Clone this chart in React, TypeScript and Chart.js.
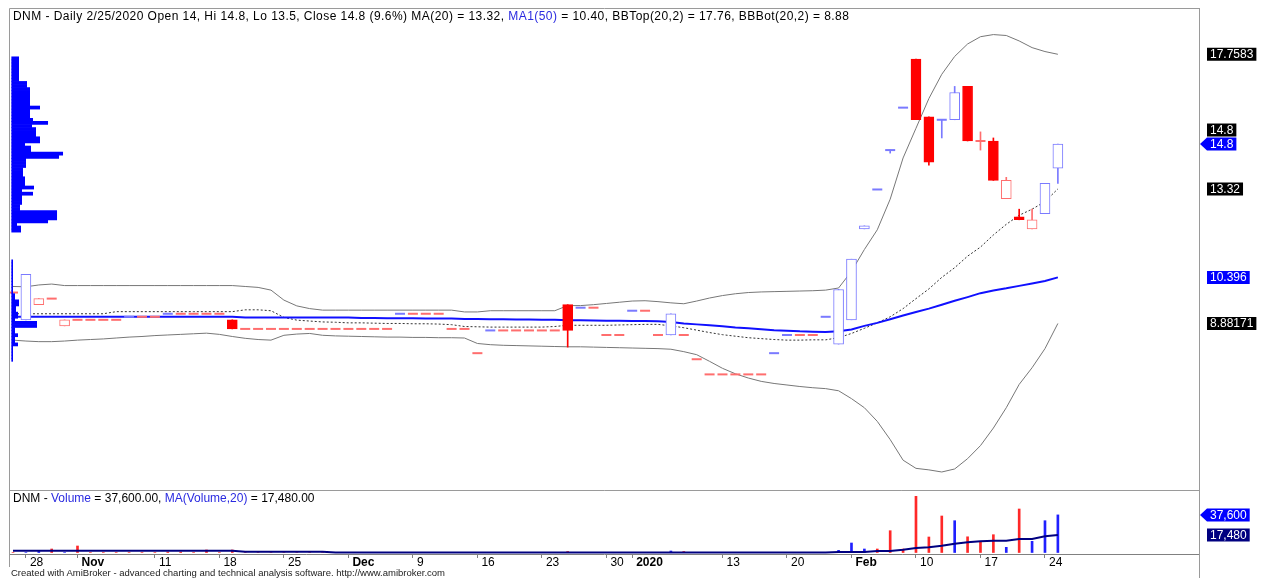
import { useEffect, useRef } from "react";
import { Chart, registerables, type Plugin, type ChartConfiguration } from "chart.js";

Chart.register(...registerables);

const FONT = "'Liberation Sans', Arial, sans-serif";

// trading days shown (Vietnam: Jan 1 and Tet 23-29 Jan closed)
const tradingDays = [
  "2019-10-25", "2019-10-28", "2019-10-29", "2019-10-30", "2019-10-31",
  "2019-11-01", "2019-11-04", "2019-11-05", "2019-11-06", "2019-11-07", "2019-11-08",
  "2019-11-11", "2019-11-12", "2019-11-13", "2019-11-14", "2019-11-15",
  "2019-11-18", "2019-11-19", "2019-11-20", "2019-11-21", "2019-11-22",
  "2019-11-25", "2019-11-26", "2019-11-27", "2019-11-28", "2019-11-29",
  "2019-12-02", "2019-12-03", "2019-12-04", "2019-12-05", "2019-12-06",
  "2019-12-09", "2019-12-10", "2019-12-11", "2019-12-12", "2019-12-13",
  "2019-12-16", "2019-12-17", "2019-12-18", "2019-12-19", "2019-12-20",
  "2019-12-23", "2019-12-24", "2019-12-25", "2019-12-26", "2019-12-27",
  "2019-12-30", "2019-12-31", "2020-01-02", "2020-01-03",
  "2020-01-06", "2020-01-07", "2020-01-08", "2020-01-09", "2020-01-10",
  "2020-01-13", "2020-01-14", "2020-01-15", "2020-01-16", "2020-01-17",
  "2020-01-20", "2020-01-21", "2020-01-22", "2020-01-30", "2020-01-31",
  "2020-02-03", "2020-02-04", "2020-02-05", "2020-02-06", "2020-02-07",
  "2020-02-10", "2020-02-11", "2020-02-12", "2020-02-13", "2020-02-14",
  "2020-02-17", "2020-02-18", "2020-02-19", "2020-02-20", "2020-02-21",
  "2020-02-24", "2020-02-25",
];

const opens = [
  9.9, 9.0, 9.5, 9.7, 8.8, 9.0, 9.0, 9.0, 9.0, 9.1,
  9.1, 9.1, 9.2, 9.2, 9.2, 9.2, 9.2, 9.0, 8.7, 8.7,
  8.7, 8.7, 8.7, 8.7, 8.7, 8.7, 8.7, 8.7, 8.7, 8.7,
  9.2, 9.2, 9.2, 9.2, 8.7, 8.7, 7.9, 8.65, 8.65, 8.65,
  8.65, 8.65, 8.65, 9.5, 9.4, 9.4, 8.5, 8.5, 9.3, 9.3,
  8.5, 8.5, 8.5, 7.7, 7.2, 7.2, 7.2, 7.2, 7.2, 7.9,
  8.5, 8.5, 8.5, 9.1, 8.2, 9.0, 12.0, 13.3, 14.6, 16.0,
  17.6, 15.7, 15.6, 15.6, 16.7, 14.9, 14.9, 13.0, 12.4, 12.0,
  12.5, 14.0,
];
const highs = [
  9.9, 10.5, 9.7, 9.7, 9.0, 9.0, 9.0, 9.0, 9.0, 9.1,
  9.1, 9.1, 9.2, 9.2, 9.2, 9.2, 9.2, 9.0, 8.7, 8.7,
  8.7, 8.7, 8.7, 8.7, 8.7, 8.7, 8.7, 8.7, 8.7, 8.7,
  9.2, 9.2, 9.2, 9.2, 8.7, 8.7, 7.9, 8.65, 8.65, 8.65,
  8.65, 8.65, 8.65, 9.5, 9.4, 9.4, 8.5, 8.5, 9.3, 9.3,
  8.5, 9.2, 8.5, 7.7, 7.2, 7.2, 7.2, 7.2, 7.2, 7.9,
  8.5, 8.5, 8.5, 9.1, 10.0, 11.0, 12.1, 13.3, 14.6, 16.0,
  17.6, 15.7, 15.6, 16.7, 16.7, 15.2, 15.0, 13.7, 12.65, 12.65,
  13.5, 14.8,
];
const lows = [
  9.9, 9.0, 9.5, 9.7, 8.8, 9.0, 9.0, 9.0, 9.0, 9.1,
  9.1, 9.1, 9.2, 9.2, 9.2, 9.2, 9.2, 8.7, 8.7, 8.7,
  8.7, 8.7, 8.7, 8.7, 8.7, 8.7, 8.7, 8.7, 8.7, 8.7,
  9.2, 9.2, 9.2, 9.2, 8.7, 8.7, 7.9, 8.65, 8.65, 8.65,
  8.65, 8.65, 8.65, 8.1, 9.4, 9.4, 8.5, 8.5, 9.3, 9.3,
  8.5, 8.5, 8.5, 7.7, 7.2, 7.2, 7.2, 7.2, 7.2, 7.9,
  8.5, 8.5, 8.5, 9.1, 8.2, 9.0, 12.0, 13.3, 14.5, 16.0,
  15.6, 14.1, 15.0, 15.6, 14.9, 14.6, 13.6, 13.0, 12.3, 12.0,
  12.5, 13.5,
];
const closes = [
  9.9, 10.5, 9.7, 9.7, 9.0, 9.0, 9.0, 9.0, 9.0, 9.1,
  9.1, 9.1, 9.2, 9.2, 9.2, 9.2, 9.2, 8.7, 8.7, 8.7,
  8.7, 8.7, 8.7, 8.7, 8.7, 8.7, 8.7, 8.7, 8.7, 8.7,
  9.2, 9.2, 9.2, 9.2, 8.7, 8.7, 7.9, 8.65, 8.65, 8.65,
  8.65, 8.65, 8.65, 8.65, 9.4, 9.4, 8.5, 8.5, 9.3, 9.3,
  8.5, 9.2, 8.5, 7.7, 7.2, 7.2, 7.2, 7.2, 7.2, 7.9,
  8.5, 8.5, 8.5, 9.1, 10.0, 11.0, 12.1, 13.3, 14.6, 16.0,
  15.6, 14.2, 15.6, 16.5, 14.9, 14.9, 13.6, 13.6, 12.3, 12.3,
  13.5, 14.8,
];
const volumes = [
  0, 0, 1000, 3500, 0, 6500, 0, 0, 0, 0,
  0, 0, 500, 500, 0, 2500, 0, 2500, 0, 0,
  0, 0, 0, 0, 0, 0, 0, 0, 0, 0,
  0, 0, 0, 0, 0, 0, 0, 0, 0, 0,
  0, 0, 0, 1000, 0, 0, 0, 0, 0, 0,
  0, 1500, 1000, 0, 0, 0, 0, 0, 0, 0,
  0, 0, 0, 0, 2200, 9500, 3500, 3500, 21800, 3500,
  56200, 15500, 36500, 31800, 15700, 11200, 17800, 5200, 43500, 11200,
  31800, 37600,
];

// indicator readings
const ma20 = [
  9.20, 9.20, 9.20, 9.20, 9.20, 9.20, 9.20, 9.20, 9.27, 9.27,
  9.27, 9.27, 9.27, 9.27, 9.27, 9.27, 9.27, 9.27, 9.33, 9.33,
  9.30, 9.08, 8.99, 8.96, 8.93, 8.92, 8.90, 8.90, 8.89, 8.88,
  8.88, 8.87, 8.87, 8.86, 8.84, 8.78, 8.77, 8.76, 8.76, 8.76,
  8.76, 8.76, 8.78, 8.82, 8.82, 8.82, 8.82, 8.83, 8.84, 8.85,
  8.85, 8.80, 8.74, 8.66, 8.58, 8.51, 8.46, 8.41, 8.38, 8.35,
  8.33, 8.33, 8.34, 8.34, 8.41, 8.55, 8.72, 8.90, 9.10, 9.37,
  9.70, 10.02, 10.40, 10.72, 11.10, 11.40, 11.80, 12.15, 12.45, 12.65,
  12.90, 13.32,
];
const ma50 = [
  9.10, 9.10, 9.10, 9.10, 9.10, 9.10, 9.10, 9.10, 9.10, 9.10,
  9.10, 9.10, 9.10, 9.10, 9.10, 9.10, 9.10, 9.10, 9.08, 9.08,
  9.08, 9.08, 9.08, 9.08, 9.08, 9.08, 9.08, 9.06, 9.06, 9.05,
  9.05, 9.05, 9.04, 9.04, 9.04, 9.03, 9.03, 9.02, 9.02, 9.01,
  9.01, 9.00, 9.00, 8.99, 8.99, 8.98, 8.97, 8.97, 8.96, 8.96,
  8.95, 8.93, 8.88, 8.85, 8.82, 8.79, 8.75, 8.72, 8.69, 8.66,
  8.64, 8.62, 8.61, 8.60, 8.62, 8.68, 8.80, 8.90, 9.02, 9.14,
  9.26, 9.37, 9.50, 9.63, 9.75, 9.88, 9.97, 10.04, 10.12, 10.20,
  10.28, 10.40,
];
const bbTop = [
  10.10, 10.09, 10.15, 10.18, 10.13, 10.13, 10.13, 10.13, 10.13, 10.13,
  10.13, 10.13, 10.13, 10.13, 10.13, 10.13, 10.13, 10.13, 10.10, 10.07,
  9.98, 9.65, 9.46, 9.37, 9.32, 9.32, 9.32, 9.32, 9.32, 9.32,
  9.32, 9.32, 9.32, 9.32, 9.32, 9.26, 9.26, 9.30, 9.30, 9.30,
  9.30, 9.30, 9.30, 9.47, 9.47, 9.50, 9.54, 9.58, 9.62, 9.63,
  9.60, 9.56, 9.53, 9.62, 9.72, 9.80, 9.86, 9.90, 9.92, 9.93,
  9.94, 9.95, 9.96, 9.98, 10.05, 10.60, 11.32, 11.97, 12.98, 14.34,
  15.32, 16.30, 17.10, 17.69, 18.10, 18.34, 18.41, 18.38, 18.20, 17.98,
  17.85, 17.76,
];
const bbBot = [
  8.33, 8.30, 8.28, 8.28, 8.30, 8.33, 8.35, 8.37, 8.40, 8.43,
  8.45, 8.48, 8.50, 8.52, 8.54, 8.56, 8.52, 8.45, 8.39, 8.35,
  8.33, 8.49, 8.53, 8.55, 8.49, 8.47, 8.46, 8.45, 8.44, 8.43,
  8.43, 8.42, 8.42, 8.41, 8.41, 8.40, 8.22, 8.18, 8.16, 8.15,
  8.14, 8.13, 8.12, 8.11, 8.11, 8.10, 8.09, 8.08, 8.07, 8.06,
  8.05, 8.03, 7.95, 7.85, 7.63, 7.40, 7.22, 7.08, 6.97, 6.90,
  6.85, 6.80, 6.76, 6.73, 6.66, 6.40, 6.10, 5.65, 5.05, 4.37,
  4.10, 4.05, 3.98, 4.08, 4.42, 4.85, 5.43, 6.10, 6.87, 7.42,
  8.05, 8.88,
];
const volMa20 = [
  1800, 1800, 1800, 1800, 1800, 1800, 1800, 1800, 1800, 1800,
  1800, 1800, 1800, 1800, 1800, 1800, 1800, 1800, 800, 800,
  800, 800, 800, 800, 800, 100, 100, 100, 100, 100,
  100, 100, 100, 100, 100, 100, 100, 100, 100, 100,
  100, 100, 100, 100, 100, 100, 100, 100, 100, 100,
  100, 100, 100, 100, 100, 100, 100, 100, 100, 100,
  100, 100, 100, 100, 500, 500, 500, 1500, 1500, 2800,
  4500, 5200, 6800, 8800, 10200, 11200, 11800, 11800, 13500, 13500,
  16200, 17480,
];

// price-volume distribution, bins of 0.1 from 17.65 downwards
const profileTop = 17.65;
const profileStep = 0.1;
const profileVolume = [
  7, 7, 7, 7, 7, 7, 7, 7, 15, 15,
  18, 18, 18, 18, 18, 18, 28, 18, 18, 18,
  21, 36, 20, 24, 24, 24, 28, 28, 13, 19,
  19, 51, 47, 14, 14, 14, 11, 11, 11, 13,
  13, 13, 22, 10, 21, 10, 10, 10, 8, 8,
  45, 45, 45, 36, 5, 9, 9, 0, 0, 0,
  0, 0, 0, 0, 0, 0, 1, 1, 1, 1,
  1, 1, 1, 1, 1, 1, 1, 3, 3, 7,
  7, 4, 4, 6, 6, 3, 25, 25, 3, 3,
  6, 3, 3, 6, 1, 1, 1, 1, 1,
];

const xTickDates = [
  "2019-10-28", "2019-11-01", "2019-11-11", "2019-11-18", "2019-11-25", "2019-12-02",
  "2019-12-09", "2019-12-16", "2019-12-23", "2019-12-30", "2020-01-02", "2020-01-13",
  "2020-01-20", "2020-02-03", "2020-02-10", "2020-02-17", "2020-02-24",
];
const xTickText = ["28", "Nov", "11", "18", "25", "Dec", "9", "16", "23", "30", "2020", "13", "20", "Feb", "10", "17", "24"];

const priceTagValues = [17.7583, 14.8, 14.8, 13.32, 10.396, 8.88171];
const priceTagText = ["17.7583", "14.8", "14.8", "13.32", "10.396", "8.88171"];
const priceTagColor = ["#000000", "#000000", "#0000ff", "#000000", "#0000ff", "#000000"];
const priceTagArrow = [false, false, true, false, false, false];

const volTagValues = [37600, 17480];
const volTagText = ["37,600", "17,480"];
const volTagColor = ["#0000ff", "#000080"];
const volTagArrow = [true, false];

// layout
const PLOT_LEFT = 9;
const PLOT_RIGHT = 1199;
const X_MIN = -0.31;
const X_MAX = 91.94;
const PRICE_MIN = 3.617;
const PRICE_MAX = 19.254;
const VOL_MIN = -1500;
const VOL_MAX = 61500;

const UP_LINE = "#7a7aff";
const RED = "#ff0000";
const RED_LIGHT = "#ff6e6e";
const FRAME = "#9a9a9a";

const last = closes.length - 1;
const idx = closes.map((_, i) => i);
const isUp = idx.map(i => closes[i] > (i > 0 ? closes[i - 1] : opens[i]));
const outline = idx.map(i => (isUp[i] ? UP_LINE : closes[i] < opens[i] ? RED : RED_LIGHT));
const xTickIdx = xTickDates.map(d => tradingDays.indexOf(d));
const tickLabel = (v: number) => {
  const k = xTickIdx.indexOf(v);
  return k >= 0 ? xTickText[k] : "";
};

function drawTags(chart: Chart, values: number[], texts: string[], colors: string[], arrows: boolean[]) {
  const { ctx } = chart;
  const scale = chart.scales.y;
  const h = 13;
  const placed: number[] = [];
  const order = values.map((_, k) => k).sort((a, b) => Number(arrows[b]) - Number(arrows[a]));
  ctx.save();
  ctx.font = `12px ${FONT}`;
  ctx.textBaseline = "middle";
  for (const k of order) {
    let y = scale.getPixelForValue(values[k]);
    for (let g = 0; g < 10; g++) {
      const hit = placed.find(p => Math.abs(p - y) < h);
      if (hit === undefined) break;
      y = hit - h - 1;
    }
    placed.push(y);
    const w = ctx.measureText(texts[k]).width + 6;
    const x0 = PLOT_RIGHT + 8;
    ctx.fillStyle = colors[k];
    ctx.beginPath();
    if (arrows[k]) {
      ctx.moveTo(PLOT_RIGHT + 1, y);
      ctx.lineTo(x0, y - h / 2);
    } else {
      ctx.moveTo(x0, y - h / 2);
    }
    ctx.lineTo(x0 + w, y - h / 2);
    ctx.lineTo(x0 + w, y + h / 2);
    ctx.lineTo(x0, y + h / 2);
    ctx.closePath();
    ctx.fill();
    ctx.fillStyle = "#ffffff";
    ctx.fillText(texts[k], x0 + 3, y + 0.5);
  }
  ctx.restore();
}

const mainDecor: Plugin = {
  id: "mainDecor",
  afterDraw(chart) {
    const { ctx } = chart;
    ctx.save();
    ctx.strokeStyle = FRAME;
    ctx.lineWidth = 1;
    ctx.beginPath();
    ctx.moveTo(PLOT_LEFT + 0.5, chart.height);
    ctx.lineTo(PLOT_LEFT + 0.5, 8.5);
    ctx.lineTo(PLOT_RIGHT + 0.5, 8.5);
    ctx.moveTo(PLOT_RIGHT + 0.5, 8);
    ctx.lineTo(PLOT_RIGHT + 0.5, chart.height);
    ctx.stroke();
    ctx.restore();
    drawTags(chart, priceTagValues, priceTagText, priceTagColor, priceTagArrow);
  },
};

const volDecor: Plugin = {
  id: "volDecor",
  afterDraw(chart) {
    const { ctx } = chart;
    ctx.save();
    ctx.strokeStyle = FRAME;
    ctx.lineWidth = 1;
    ctx.beginPath();
    ctx.moveTo(PLOT_LEFT + 0.5, 0);
    ctx.lineTo(PLOT_LEFT + 0.5, 77);
    ctx.moveTo(PLOT_LEFT, 0.5);
    ctx.lineTo(PLOT_RIGHT + 0.5, 0.5);
    ctx.moveTo(PLOT_RIGHT + 0.5, 0);
    ctx.lineTo(PLOT_RIGHT + 0.5, chart.height);
    ctx.stroke();
    ctx.restore();
    drawTags(chart, volTagValues, volTagText, volTagColor, volTagArrow);
  },
};

function lineSet(values: number[], color: string, width: number, order: number, dash: number[] = []) {
  return {
    type: "line" as const,
    data: values.map((v, i) => ({ x: i, y: v })),
    borderColor: color,
    borderWidth: width,
    borderDash: dash,
    pointRadius: 0,
    fill: false,
    tension: 0,
    order,
  };
}

function mainConfig(): ChartConfiguration {
  const bodyIdx = idx.filter(i => opens[i] !== closes[i]);
  const wickIdx = idx.filter(i => highs[i] > lows[i]);
  const dashIdx = idx.filter(i => opens[i] === closes[i]);
  return {
    type: "bar",
    data: {
      datasets: [
        lineSet(bbTop, "#777777", 1, 20),
        lineSet(bbBot, "#777777", 1, 20),
        lineSet(ma20, "#333333", 1, 19, [2, 2]),
        lineSet(ma50, "#1010ff", 2, 18),
        {
          type: "bar",
          data: wickIdx.map(i => ({ x: i, y: [lows[i], highs[i]] })),
          backgroundColor: wickIdx.map(i => outline[i]),
          borderWidth: 0,
          barThickness: 1,
          grouped: false,
          order: 3,
        },
        {
          type: "bar",
          data: bodyIdx.map(i => ({ x: i, y: [Math.min(opens[i], closes[i]), Math.max(opens[i], closes[i])] })),
          backgroundColor: bodyIdx.map(i => (closes[i] < opens[i] ? (isUp[i] ? "#0000ff" : RED) : "#ffffff")),
          borderColor: bodyIdx.map(i => outline[i]),
          borderWidth: 1,
          borderSkipped: false,
          barThickness: 10,
          grouped: false,
          order: 2,
        },
        {
          type: "line",
          data: dashIdx.map(i => ({ x: i, y: closes[i] })),
          showLine: false,
          pointStyle: "line",
          pointRadius: 5,
          pointBorderWidth: 2,
          pointBorderColor: dashIdx.map(i => outline[i]),
          order: 1,
        },
      ] as any,
    },
    options: {
      responsive: true,
      maintainAspectRatio: false,
      animation: false,
      events: [],
      layout: { padding: { left: PLOT_LEFT, right: 1265 - PLOT_RIGHT, top: 9, bottom: 0 } },
      plugins: { legend: { display: false }, tooltip: { enabled: false } },
      scales: {
        x: { type: "linear", min: X_MIN, max: X_MAX, display: false, offset: false },
        y: { type: "linear", min: PRICE_MIN, max: PRICE_MAX, display: false },
      },
    },
    plugins: [mainDecor],
  };
}

function profileConfig(): ChartConfiguration {
  const bins = profileVolume
    .map((v, k) => ({ x: v, y: +(profileTop - k * profileStep).toFixed(2) }))
    .filter(b => b.x > 0);
  return {
    type: "bar",
    data: {
      datasets: [
        {
          data: bins as any,
          backgroundColor: "#0000ff",
          borderWidth: 0,
          barPercentage: 1,
          categoryPercentage: 1,
        },
      ],
    },
    options: {
      indexAxis: "y",
      responsive: true,
      maintainAspectRatio: false,
      animation: false,
      events: [],
      layout: { padding: { left: PLOT_LEFT, right: 1265 - PLOT_RIGHT, top: 9, bottom: 0 } },
      plugins: { legend: { display: false }, tooltip: { enabled: false } },
      scales: {
        x: { type: "linear", min: -2.7, max: 1187.3, display: false },
        y: { type: "linear", min: PRICE_MIN, max: PRICE_MAX, display: false, offset: false },
      },
    },
  };
}

function volumeConfig(): ChartConfiguration {
  return {
    type: "bar",
    data: {
      datasets: [
        {
          type: "bar",
          data: volumes.map((v, i) => ({ x: i, y: v })),
          backgroundColor: idx.map(i => (closes[i] > opens[i] ? "#2020ff" : "#ff2828")),
          borderWidth: 0,
          barThickness: 2,
          grouped: false,
          order: 2,
        },
        lineSet(volMa20, "#000080", 2, 1),
      ] as any,
    },
    options: {
      responsive: true,
      maintainAspectRatio: false,
      animation: false,
      events: [],
      layout: { padding: { left: PLOT_LEFT, right: 1265 - PLOT_RIGHT, top: 1, bottom: 0 } },
      plugins: { legend: { display: false }, tooltip: { enabled: false } },
      scales: {
        x: {
          type: "linear",
          min: X_MIN,
          max: X_MAX,
          offset: false,
          afterBuildTicks: (axis: any) => {
            axis.ticks = xTickIdx.map(value => ({ value }));
          },
          afterFit: (axis: any) => {
            axis.height = 24;
          },
          grid: { display: true, drawOnChartArea: false, drawTicks: true, tickLength: 4, color: "#808080", offset: false },
          border: { display: true, color: "#808080" },
          ticks: {
            autoSkip: false,
            maxRotation: 0,
            minRotation: 0,
            align: "start",
            labelOffset: 4,
            padding: -3,
            color: "#000000",
            callback: (v: any) => tickLabel(Number(v)),
            font: (c: any) => ({
              family: FONT,
              size: 12,
              weight: /^\d{1,2}$/.test(tickLabel(Number(c.tick?.value))) ? "normal" : "bold",
            }),
          },
        },
        y: { type: "linear", min: VOL_MIN, max: VOL_MAX, display: false },
      },
    },
    plugins: [volDecor],
  };
}

export default function App() {
  const mainRef = useRef<HTMLCanvasElement>(null);
  const profRef = useRef<HTMLCanvasElement>(null);
  const volRef = useRef<HTMLCanvasElement>(null);

  useEffect(() => {
    document.body.style.margin = "0";
    const charts: Chart[] = [];
    if (mainRef.current) charts.push(new Chart(mainRef.current, mainConfig()));
    if (profRef.current) charts.push(new Chart(profRef.current, profileConfig()));
    if (volRef.current) charts.push(new Chart(volRef.current, volumeConfig()));
    return () => charts.forEach(c => c.destroy());
  }, []);

  const pct = (((closes[last] - closes[last - 1]) / closes[last - 1]) * 100).toFixed(1);
  const blue = "#2a2ae0";
  const box = (top: number, height: number) =>
    ({ position: "absolute", left: 0, top, width: 1265, height } as const);

  return (
    <div style={{ position: "relative", width: 1265, height: 578, background: "#ffffff", overflow: "hidden", fontFamily: FONT }}>
      <div style={box(0, 490)}><canvas ref={mainRef} /></div>
      <div style={box(0, 490)}><canvas ref={profRef} /></div>
      <div style={box(490, 88)}><canvas ref={volRef} /></div>
      <div style={{ position: "absolute", left: 13, top: 9, fontSize: 12, letterSpacing: "0.45px", lineHeight: "14px", whiteSpace: "nowrap", color: "#000" }}>
        {`DNM - Daily 2/25/2020 Open ${opens[last]}, Hi ${highs[last]}, Lo ${lows[last]}, Close ${closes[last]} (${pct}%) MA(20) = ${ma20[last].toFixed(2)}, `}
        <span style={{ color: blue }}>MA1(50)</span>
        {` = ${ma50[last].toFixed(2)}, BBTop(20,2) = ${bbTop[last].toFixed(2)}, BBBot(20,2) = ${bbBot[last].toFixed(2)}`}
      </div>
      <div style={{ position: "absolute", left: 13, top: 491, fontSize: 12, lineHeight: "14px", whiteSpace: "nowrap", color: "#000" }}>
        {"DNM - "}
        <span style={{ color: blue }}>Volume</span>
        {` = ${volumes[last].toLocaleString("en-US")}.00, `}
        <span style={{ color: blue }}>MA(Volume,20)</span>
        {` = ${volMa20[last].toLocaleString("en-US")}.00`}
      </div>
      <div style={{ position: "absolute", left: 11, top: 568, fontSize: 9.5, lineHeight: "10px", whiteSpace: "nowrap", color: "#222" }}>
        Created with AmiBroker - advanced charting and technical analysis software. http://www.amibroker.com
      </div>
    </div>
  );
}
